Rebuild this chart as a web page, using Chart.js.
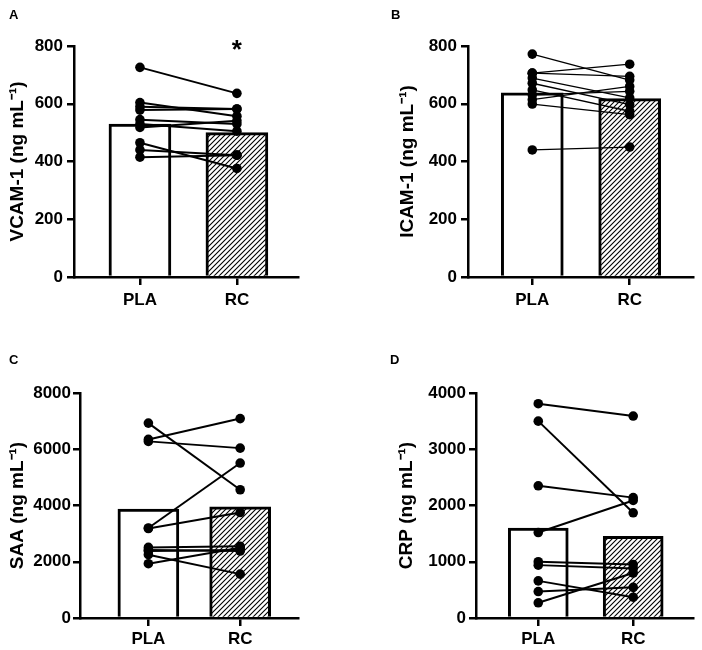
<!DOCTYPE html>
<html><head><meta charset="utf-8">
<script src="https://cdn.jsdelivr.net/npm/chart.js@4.4.1/dist/chart.umd.min.js"></script>
<style>
html,body{margin:0;padding:0;background:#fff;}
#wrap{position:relative;width:702px;height:650px;overflow:hidden;}
.panel{position:absolute;width:351px;height:325px;}
.lbl{position:absolute;font:bold 13px "Liberation Sans",Arial,sans-serif;line-height:13px;color:#000;}
</style></head><body>
<div id="wrap">
  <div class="panel" style="left:0;top:0"><canvas id="cA" width="351" height="325"></canvas></div>
  <div class="panel" style="left:351px;top:0"><canvas id="cB" width="351" height="325"></canvas></div>
  <div class="panel" style="left:0;top:325px"><canvas id="cC" width="351" height="325"></canvas></div>
  <div class="panel" style="left:351px;top:325px"><canvas id="cD" width="351" height="325"></canvas></div>
  <div class="lbl" style="left:9px;top:8px">A</div>
  <div class="lbl" style="left:391px;top:8px">B</div>
  <div class="lbl" style="left:9px;top:353px">C</div>
  <div class="lbl" style="left:390px;top:353px">D</div>
</div>
<script>
// ---- data ----
const categories = ['PLA', 'RC'];

const vcamMean = [530, 500];
const vcamPLA = [726, 604, 590, 578, 545, 530, 518, 465, 440, 415];
const vcamRC  = [636, 557, 582, 582, 530, 505, 541, 376, 422, 422];
const vcamTicks = [0, 200, 400, 600, 800];

const icamMean = [638, 618];
const icamPLA = [772, 706, 706, 689, 671, 648, 631, 614, 599, 440];
const icamRC  = [682, 737, 695, 620, 597, 574, 643, 660, 562, 450];
const icamTicks = [0, 200, 400, 600, 800];

const saaMean = [3870, 3950];
const saaPLA = [6930, 6350, 6280, 3200, 3180, 2510, 2420, 2380, 2250, 1930];
const saaRC  = [4560, 7090, 6040, 5510, 3750, 2550, 2380, 2420, 1560, 2500];
const saaTicks = [0, 2000, 4000, 6000, 8000];

const crpMean = [1600, 1450];
const crpPLA = [3810, 3500, 2350, 1520, 1000, 940, 660, 470, 270];
const crpRC  = [3590, 1870, 2140, 2090, 950, 880, 370, 545, 800];
const crpTicks = [0, 1000, 2000, 3000, 4000];

// ---- styling helpers ----
const FONT = '"Liberation Sans", Arial, sans-serif';

function makeHatch() {
  const s = 5;
  const c = document.createElement('canvas');
  c.width = s; c.height = s;
  const g = c.getContext('2d');
  g.fillStyle = '#fff'; g.fillRect(0, 0, s, s);
  g.strokeStyle = '#000'; g.lineWidth = 1.1;
  g.beginPath();
  g.moveTo(0, s); g.lineTo(s, 0);
  g.moveTo(-s/2, s/2); g.lineTo(s/2, -s/2);
  g.moveTo(s/2, s*1.5); g.lineTo(s*1.5, s/2);
  g.stroke();
  return g.createPattern(c, 'repeat');
}

const starPlugin = {
  id: 'star',
  afterDatasetsDraw(chart, args, opts) {
    if (!opts || !opts.text) return;
    const { ctx, scales } = chart;
    ctx.save();
    ctx.font = 'bold 26px ' + FONT;
    ctx.fillStyle = '#000';
    ctx.textAlign = 'center';
    ctx.textBaseline = 'alphabetic';
    ctx.fillText(opts.text, scales.x.getPixelForValue(opts.at), scales.y.getPixelForValue(scales.y.max) + 12);
    ctx.restore();
  }
};

function makePanel(id, cfg) {
  const hatch = makeHatch();
  const datasets = [{
    type: 'bar',
    data: cfg.mean.map((v, i) => ({ x: i, y: v })),
    backgroundColor: ['#ffffff', hatch],
    borderColor: '#000',
    borderWidth: 3,
    borderSkipped: 'start',
    barThickness: cfg.barW,
    order: 2
  }];
  cfg.pla.forEach((v, i) => {
    datasets.push({
      type: 'line',
      data: [{ x: 0, y: v }, { x: 1, y: cfg.rc[i] }],
      borderColor: '#000',
      borderWidth: cfg.lw,
      pointRadius: 4.8,
      pointBackgroundColor: '#000',
      pointBorderWidth: 0,
      fill: false,
      order: 1
    });
  });
  const ymax = cfg.ticks[cfg.ticks.length - 1];
  return new Chart(document.getElementById(id), {
    type: 'bar',
    data: { datasets },
    plugins: [starPlugin],
    options: {
      responsive: false,
      animation: false,
      events: [],
      layout: { padding: { left: cfg.pl, right: 351 - cfg.right, top: cfg.top, bottom: 0 } },
      plugins: { legend: { display: false }, tooltip: { enabled: false }, star: cfg.star || {} },
      scales: {
        x: {
          type: 'linear', min: cfg.xmin, max: cfg.xmax, offset: false,
          afterBuildTicks: s => { s.ticks = categories.map((c, i) => ({ value: i })); },
          afterFit: s => { s.height = 325 - cfg.bottom; },
          ticks: {
            callback: v => categories[v], autoSkip: false, maxRotation: 0,
            font: { family: FONT, size: 17, weight: 'bold' }, color: '#000', padding: cfg.xpad
          },
          grid: { offset: false, drawOnChartArea: false, drawTicks: true, tickLength: 8, lineWidth: 2.5, color: '#000' },
          border: { display: true, color: '#000', width: 2.5 }
        },
        y: {
          min: 0, max: ymax,
          afterBuildTicks: s => { s.ticks = cfg.ticks.map(v => ({ value: v })); },
          afterFit: s => { s.width = cfg.left - cfg.pl; },
          ticks: {
            callback: v => String(v),
            font: { family: FONT, size: 17, weight: 'bold' }, color: '#000', padding: cfg.tpad
          },
          grid: { drawOnChartArea: false, drawTicks: true, tickLength: 7, lineWidth: 2.5, color: '#000' },
          border: { display: true, color: '#000', width: 2.5 },
          title: {
            display: true, text: cfg.title, color: '#000',
            font: { family: FONT, size: 19, weight: 'bold' },
            padding: { top: 6, bottom: 0 }
          }
        }
      }
    }
  });
}

makePanel('cA', { mean: vcamMean, pla: vcamPLA, rc: vcamRC, ticks: vcamTicks, title: 'VCAM-1 (ng mL⁻¹)',
  left: 74, right: 298, top: 46, bottom: 277, pl: 0, xmin: -0.68, xmax: 1.63, barW: 62, lw: 2, tpad: 4, xpad: 5,
  star: { text: '*', at: 1 } });
makePanel('cB', { mean: icamMean, pla: icamPLA, rc: icamRC, ticks: icamTicks, title: 'ICAM-1 (ng mL⁻¹)',
  left: 117, right: 342, top: 46, bottom: 277, pl: 39, xmin: -0.66, xmax: 1.65, barW: 62, lw: 1.3, tpad: 4, xpad: 5 });
makePanel('cC', { mean: saaMean, pla: saaPLA, rc: saaRC, ticks: saaTicks, title: 'SAA (ng mL⁻¹)',
  left: 80, right: 298, top: 68, bottom: 293, pl: 0, xmin: -0.745, xmax: 1.63, barW: 61, lw: 2, tpad: 2, xpad: 3 });
makePanel('cD', { mean: crpMean, pla: crpPLA, rc: crpRC, ticks: crpTicks, title: 'CRP (ng mL⁻¹)',
  left: 125, right: 342, top: 68, bottom: 293, pl: 38, xmin: -0.656, xmax: 1.63, barW: 60, lw: 2, tpad: 3, xpad: 3 });
</script>
</body></html>
